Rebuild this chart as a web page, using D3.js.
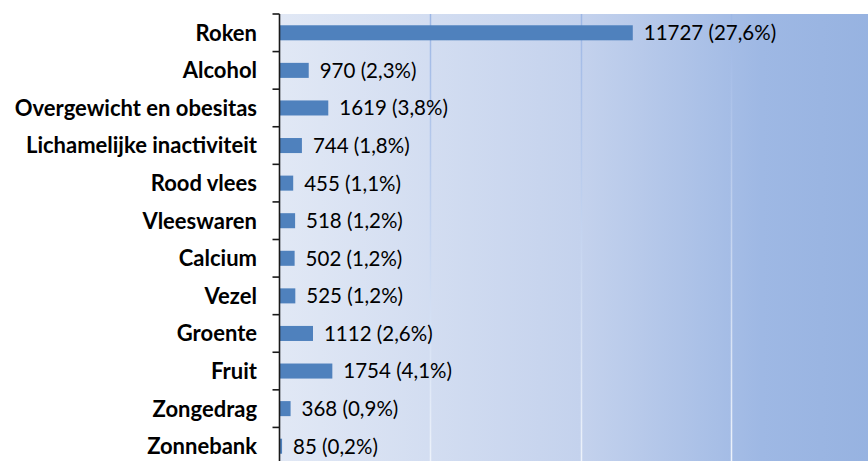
<!DOCTYPE html>
<html>
<head>
<meta charset="utf-8">
<script src="https://cdn.jsdelivr.net/npm/d3@7"></script>
<style>
  body { margin: 0; background: #ffffff; }
  svg { display: block; }
</style>
</head>
<body>
<script>
// chart data
var categories = ["Roken", "Alcohol", "Overgewicht en obesitas", "Lichamelijke inactiviteit",
  "Rood vlees", "Vleeswaren", "Calcium", "Vezel", "Groente", "Fruit", "Zongedrag", "Zonnebank"];
var cases = [11727, 970, 1619, 744, 455, 518, 502, 525, 1112, 1754, 368, 85];
var shares = ["27,6%", "2,3%", "3,8%", "1,8%", "1,1%", "1,2%", "1,2%", "1,2%", "2,6%", "4,1%", "0,9%", "0,2%"];
var gridTicks = [5000, 10000, 15000];

// layout
var width = 868;
var height = 461;
var plotLeft = 279.5;
var plotTop = 14;
var plotRight = 882;
var plotBottom = 465;

var barColor = "#4f81bd";
var labelFont = "Lato, 'Open Sans', sans-serif";

var rows = categories.map(function(c, i) {
  return { name: c, value: cases[i], share: shares[i] };
});

var svg = d3.select("body")
  .append("svg")
  .attr("width", width)
  .attr("height", height);

var defs = svg.append("defs");

// background gradient, light on the left, blue on the right
var bgGrad = defs.append("linearGradient")
  .attr("id", "bgGrad")
  .attr("gradientUnits", "userSpaceOnUse")
  .attr("x1", plotLeft).attr("y1", 0)
  .attr("x2", plotRight).attr("y2", 0);
bgGrad.append("stop").attr("offset", "0%").attr("stop-color", "#e1e8f5");
bgGrad.append("stop").attr("offset", "50%").attr("stop-color", "#c4d2ed");
bgGrad.append("stop").attr("offset", "80%").attr("stop-color", "#9eb8e4");
bgGrad.append("stop").attr("offset", "100%").attr("stop-color", "#96b2e0");

// gridlines fade from blue at the top to white at the bottom
var gridGrad = defs.append("linearGradient")
  .attr("id", "gridGrad")
  .attr("gradientUnits", "userSpaceOnUse")
  .attr("x1", 0).attr("y1", plotTop)
  .attr("x2", 0).attr("y2", plotBottom);
gridGrad.append("stop").attr("offset", "0%").attr("stop-color", "#9db7e5");
gridGrad.append("stop").attr("offset", "100%").attr("stop-color", "#eef3fb");

var x = d3.scaleLinear()
  .domain([0, 20000])
  .range([plotLeft, plotRight]);

var y = d3.scaleBand()
  .domain(categories)
  .range([plotTop, plotBottom])
  .paddingInner(0.6)
  .paddingOuter(0.3);

svg.append("rect")
  .attr("x", plotLeft)
  .attr("y", plotTop)
  .attr("width", plotRight - plotLeft)
  .attr("height", plotBottom - plotTop)
  .attr("fill", "url(#bgGrad)");

svg.append("g")
  .selectAll("line")
  .data(gridTicks)
  .enter()
  .append("line")
  .attr("x1", function(d) { return Math.round(x(d)) + 0.5; })
  .attr("x2", function(d) { return Math.round(x(d)) + 0.5; })
  .attr("y1", plotTop)
  .attr("y2", plotBottom)
  .attr("stroke", "url(#gridGrad)")
  .attr("stroke-width", 1.5);

// bars
svg.append("g")
  .selectAll("rect")
  .data(rows)
  .enter()
  .append("rect")
  .attr("x", plotLeft)
  .attr("y", function(d) { return y(d.name); })
  .attr("width", function(d) { return x(d.value) - plotLeft; })
  .attr("height", y.bandwidth())
  .attr("fill", barColor);

// value labels
svg.append("g")
  .selectAll("text")
  .data(rows)
  .enter()
  .append("text")
  .attr("x", function(d) { return x(d.value) + 11; })
  .attr("y", function(d) { return y(d.name) + y.bandwidth() / 2; })
  .attr("dy", "0.36em")
  .attr("font-family", labelFont)
  .attr("font-size", "20.5px")
  .attr("fill", "#000")
  .text(function(d) { return d.value + " (" + d.share + ")"; });

// category axis: ticks sit between the categories
var step = y.step();
var tickYs = d3.range(categories.length + 1).map(function(i) { return plotTop + i * step; });

var axisG = svg.append("g");
axisG.append("line")
  .attr("x1", plotLeft).attr("x2", plotLeft)
  .attr("y1", plotTop).attr("y2", plotBottom)
  .attr("stroke", "#1a1a1a")
  .attr("stroke-width", 1.6);
axisG.selectAll("line.tick")
  .data(tickYs)
  .enter()
  .append("line")
  .attr("class", "tick")
  .attr("x1", plotLeft - 7).attr("x2", plotLeft)
  .attr("y1", function(d) { return d; })
  .attr("y2", function(d) { return d; })
  .attr("stroke", "#1a1a1a")
  .attr("stroke-width", 1.6);

axisG.selectAll("text")
  .data(rows)
  .enter()
  .append("text")
  .attr("x", 257)
  .attr("y", function(d) { return y(d.name) + y.bandwidth() / 2; })
  .attr("dy", "0.36em")
  .attr("text-anchor", "end")
  .attr("font-family", labelFont)
  .attr("font-weight", "bold")
  .attr("font-size", "22px")
  .attr("fill", "#000")
  .text(function(d) { return d.name; });
</script>
</body>
</html>
